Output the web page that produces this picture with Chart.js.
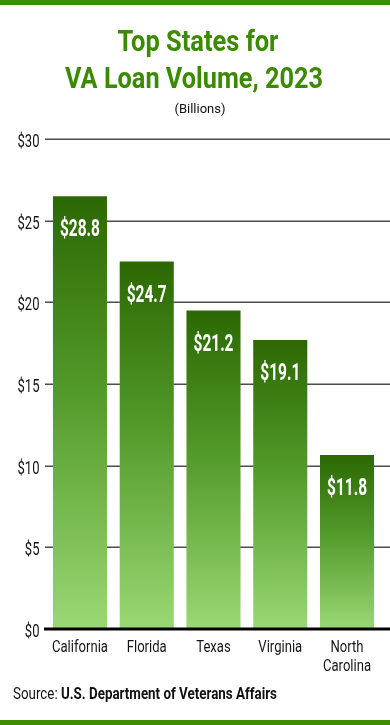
<!DOCTYPE html>
<html>
<head>
<meta charset="utf-8">
<script src="https://cdn.jsdelivr.net/npm/chart.js@4.4.1/dist/chart.umd.min.js"></script>
<style>
  html, body { margin: 0; padding: 0; background: #fff; }
  #wrap { position: relative; width: 390px; height: 725px; overflow: hidden; background: #fff; }
  #chart { position: absolute; left: 0; top: 0; }
  .bar { position: absolute; left: 0; width: 390px; height: 5px; background: #3e8a00; }
  .txt { position: absolute; white-space: nowrap; line-height: 1; }
  .title { font-family: Roboto, sans-serif; font-weight: 700; font-size: 30px; color: #3b8a00; }
  .sub { font-family: Roboto, sans-serif; font-size: 13px; color: #111; }
  .src { font-family: Roboto, sans-serif; font-size: 17px; color: #111; }
  .src b { font-weight: 700; }
</style>
</head>
<body>
<div id="wrap">
  <div class="bar" style="top:0"></div>
  <canvas id="chart" width="390" height="725"></canvas>
  <span class="txt title" id="t1" data-cx="198" data-top="26" data-w="161">Top States for</span>
  <span class="txt title" id="t2" data-cx="194" data-top="62.5" data-w="258">VA Loan Volume, 2023</span>
  <span class="txt sub" id="t3" data-cx="200" data-top="101.5" data-w="51">(Billions)</span>
  <span class="txt src" id="t4" data-left="13" data-top="685" data-w="264">Source: <b>U.S. Department of Veterans Affairs</b></span>
  <div class="bar" style="top:720px"></div>
</div>
<script>
// ---- data ----
const states = [["California"], ["Florida"], ["Texas"], ["Virginia"], ["North", "Carolina"]];
const barValues = [26.5, 22.5, 19.5, 17.7, 10.65];      // bar heights as drawn (billions $)
const valueLabels = ["$28.8", "$24.7", "$21.2", "$19.1", "$11.8"];
const yTicks = [0, 5, 10, 15, 20, 25, 30];

// ---- fit HTML text widths (condensed look) ----
document.querySelectorAll('.txt').forEach(el => {
  const w = el.offsetWidth, target = +el.dataset.w;
  const s = target / w;
  el.style.top = el.dataset.top + 'px';
  if (el.dataset.cx) {
    el.style.left = (+el.dataset.cx - w / 2) + 'px';
    el.style.transformOrigin = '50% 0';
  } else {
    el.style.left = el.dataset.left + 'px';
    el.style.transformOrigin = '0 0';
  }
  el.style.transform = 'scaleX(' + s + ')';
});

const FONT = 'Roboto, sans-serif';

function condensedText(ctx, text, x, y, sx, align) {
  ctx.save();
  ctx.translate(x, y);
  ctx.scale(sx, 1);
  ctx.textAlign = align;
  ctx.fillText(text, 0, 0);
  ctx.restore();
}

const drawPlugin = {
  id: 'drawExtras',
  beforeDatasetsDraw(chart) {
    const ctx = chart.ctx, y = chart.scales.y;
    ctx.save();
    ctx.strokeStyle = '#4d4d4d';
    ctx.lineWidth = 1.5;
    y.ticks.forEach(t => {
      if (t.value === 0) return;
      const py = Math.round(y.getPixelForValue(t.value)) + 0.25;
      ctx.beginPath();
      ctx.moveTo(45, py);
      ctx.lineTo(chart.width, py);
      ctx.stroke();
    });
    ctx.restore();
  },
  afterDatasetsDraw(chart) {
    const ctx = chart.ctx, y = chart.scales.y, x = chart.scales.x;
    ctx.save();
    // baseline
    const p0 = y.getPixelForValue(0);
    ctx.fillStyle = '#000';
    ctx.fillRect(44, p0 - 1.5, chart.width - 44, 3);

    // y tick labels
    ctx.fillStyle = '#151515';
    ctx.textBaseline = 'alphabetic';
    ctx.font = '18px ' + FONT;
    const sy = 22 / ctx.measureText('$30').width;
    y.ticks.forEach(t => {
      condensedText(ctx, '$' + t.value, 39.5, y.getPixelForValue(t.value) + 8, sy, 'right');
    });

    // x tick labels
    ctx.font = '17px ' + FONT;
    const sx = 56 / ctx.measureText('California').width;
    chart.data.labels.forEach((lab, i) => {
      const px = x.getPixelForTick(i);
      lab.forEach((line, j) => {
        condensedText(ctx, line, px, p0 + 23 + j * 19, sx, 'center');
      });
    });

    // value labels
    const meta = chart.getDatasetMeta(0);
    ctx.fillStyle = '#fff';
    ctx.font = 'bold 23px ' + FONT;
    const sv = 40 / ctx.measureText('$28.8').width;
    meta.data.forEach((bar, i) => {
      condensedText(ctx, valueLabels[i], bar.x, bar.y + 40, sv, 'center');
    });
    ctx.restore();
  }
};

function barGradient(context) {
  const chart = context.chart;
  if (!chart.chartArea) return '#4a8f22';
  const y = chart.scales.y;
  const top = y.getPixelForValue(barValues[context.dataIndex]);
  const bottom = y.getPixelForValue(0);
  const g = chart.ctx.createLinearGradient(0, top, 0, bottom);
  g.addColorStop(0, '#2c6803');
  g.addColorStop(0.45, '#529a2a');
  g.addColorStop(1, '#9ad874');
  return g;
}

new Chart(document.getElementById('chart'), {
  type: 'bar',
  data: {
    labels: states,
    datasets: [{
      data: barValues,
      backgroundColor: barGradient,
      borderWidth: 0,
      barPercentage: 0.81,
      categoryPercentage: 1
    }]
  },
  plugins: [drawPlugin],
  options: {
    responsive: false,
    animation: false,
    events: [],
    layout: { padding: { top: 139, right: 9.6, bottom: 56, left: 0 } },
    plugins: { legend: { display: false }, tooltip: { enabled: false }, title: { display: false } },
    scales: {
      x: {
        grid: { display: false, drawTicks: false },
        border: { display: false },
        ticks: { display: false },
        afterFit(s) { s.height = 40; }
      },
      y: {
        min: 0, max: 30,
        grid: { display: false, drawTicks: false },
        border: { display: false },
        ticks: { display: false, stepSize: 5 },
        afterFit(s) { s.width = 46.6; }
      }
    }
  }
});
</script>
</body>
</html>
